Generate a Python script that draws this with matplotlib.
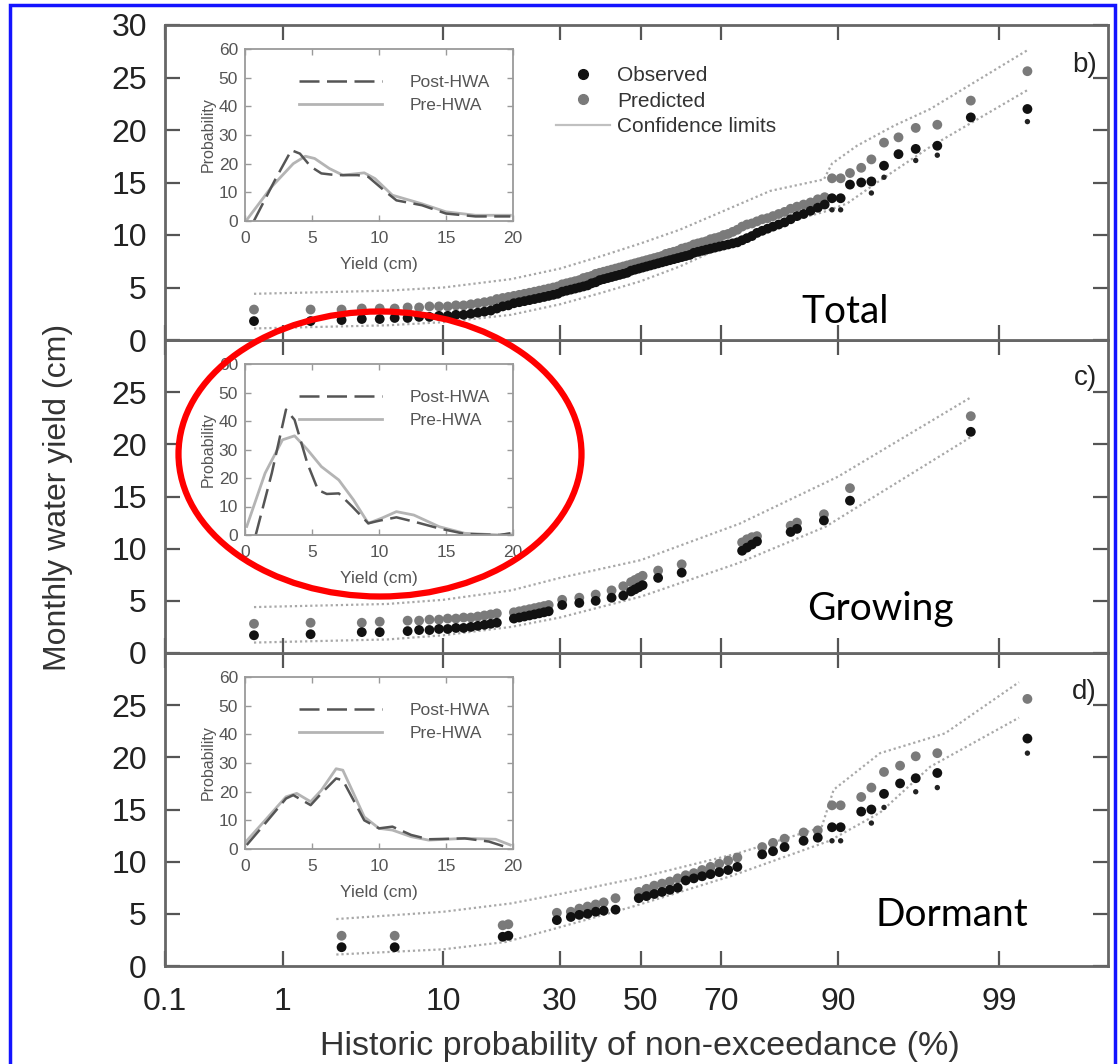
import numpy as np
import matplotlib
matplotlib.use("Agg")
import matplotlib.pyplot as plt
from matplotlib.patches import Ellipse, Rectangle
from matplotlib.lines import Line2D
from statistics import NormalDist

plt.rcParams['font.family'] = ['Liberation Sans', 'DejaVu Sans']

# ---- probability axis ticks
x_ticks = [0.1, 1, 10, 30, 50, 70, 90, 99]
x_tick_labels = ['0.1', '1', '10', '30', '50', '70', '90', '99']

# ---- b) Total
total_p = [0.6, 1.6, 2.6, 3.5, 4.5, 5.5, 6.5, 7.5, 8.5, 9.5,
           10.5, 11.5, 12.5, 13.5, 14.5, 15.5, 16.5, 17.5, 18.5, 19.5,
           20.5, 21.5, 22.5, 23.5, 24.5, 25.5, 26.5, 27.5, 28.5, 29.5,
           30.5, 31.5, 32.5, 33.5, 34.5, 35.5, 36.5, 37.5, 38.5, 39.5,
           40.5, 41.5, 42.5, 43.5, 44.5, 45.5, 46.5, 47.5, 48.5, 49.5,
           50.5, 51.5, 52.5, 53.5, 54.5, 55.5, 56.5, 57.5, 58.5, 59.5,
           60.5, 61.5, 62.5, 63.5, 64.5, 65.5, 66.5, 67.5, 68.5, 69.5,
           70.5, 71.5, 72.5, 73.5, 74.5, 75.5, 76.5, 77.5, 78.5, 79.5,
           80.5, 81.5, 82.5, 83.5, 84.5, 85.5, 86.5, 87.5, 88.4,
           89.3, 90.3, 91.3, 92.4, 93.3, 94.3, 95.3, 96.3, 97.3, 98.4, 99.4]
total_obs = [1.8, 1.8, 1.9, 2.0, 2.0, 2.1, 2.1, 2.2, 2.2, 2.3,
             2.3, 2.4, 2.4, 2.5, 2.6, 2.7, 2.8, 3.0, 3.2, 3.3,
             3.5, 3.6, 3.7, 3.8, 3.9, 4.0, 4.1, 4.2, 4.3, 4.4,
             4.6, 4.7, 4.8, 4.9, 5.0, 5.1, 5.2, 5.4, 5.5, 5.7,
             5.8, 5.9, 6.0, 6.1, 6.2, 6.3, 6.4, 6.6, 6.7, 6.8,
             6.9, 7.0, 7.1, 7.2, 7.3, 7.4, 7.5, 7.6, 7.7, 7.8,
             7.9, 8.0, 8.1, 8.3, 8.4, 8.5, 8.6, 8.7, 8.8, 8.9,
             9.0, 9.1, 9.2, 9.3, 9.5, 9.7, 9.9, 10.2, 10.4, 10.6,
             10.8, 11.0, 11.2, 11.5, 11.8, 12.0, 12.3, 12.6, 12.9,
             13.5, 13.5, 14.8, 15.0, 15.1, 16.6, 17.7, 18.2, 18.5, 21.2, 22.0]
total_pred = [2.9, 2.9, 2.9, 3.0, 3.0, 3.0, 3.1, 3.1, 3.2, 3.2,
              3.2, 3.3, 3.3, 3.4, 3.5, 3.6, 3.7, 3.9, 4.0, 4.1,
              4.2, 4.3, 4.4, 4.5, 4.6, 4.7, 4.8, 4.9, 5.0, 5.1,
              5.3, 5.4, 5.5, 5.6, 5.7, 5.9, 6.0, 6.1, 6.3, 6.4,
              6.5, 6.6, 6.7, 6.8, 6.9, 7.0, 7.1, 7.2, 7.3, 7.4,
              7.5, 7.6, 7.7, 7.8, 7.9, 8.0, 8.2, 8.3, 8.4, 8.5,
              8.7, 8.8, 8.9, 9.1, 9.2, 9.3, 9.4, 9.6, 9.7, 9.8,
              10.0, 10.1, 10.3, 10.5, 10.8, 11.0, 11.1, 11.3, 11.5, 11.6,
              11.8, 12.0, 12.2, 12.5, 12.7, 12.9, 13.1, 13.4, 13.6,
              15.4, 15.4, 15.9, 16.4, 17.2, 18.8, 19.3, 20.2, 20.5, 22.8, 25.6]
total_small_p = [89.3, 90.3, 93.3, 94.3, 96.3, 97.3, 99.4]
total_small = [12.4, 12.4, 14.0, 15.5, 17.1, 17.6, 20.8]
total_up_p = [0.6, 5, 10, 20, 30, 40, 50, 60, 70, 80, 88.3, 89.3, 92, 95, 97, 99.4]
total_up = [4.4, 4.7, 5.0, 5.8, 6.8, 8.0, 9.2, 10.5, 12.2, 14.2, 15.3, 16.8, 18.5, 20.4, 22.0, 27.6]
total_lo_p = [0.6, 5, 10, 20, 30, 40, 50, 60, 70, 80, 88.3, 91, 94, 97, 99.4]
total_lo = [1.1, 1.4, 1.7, 2.4, 3.4, 4.5, 5.6, 7.0, 8.8, 10.8, 12.2, 13.0, 15.2, 18.4, 23.8]

# ---- c) Growing
grow_p = [0.6, 1.6, 3.5, 4.5, 6.5, 7.5, 8.5, 9.5, 10.5, 11.5,
          12.5, 13.5, 14.5, 15.5, 16.5, 17.5, 20.5, 21.5, 22.5, 23.5,
          24.5, 25.5, 26.5, 27.5, 30.5, 34.5, 38.5, 42.5, 45.5, 47.5,
          48.5, 49.5, 50.5, 54.5, 60.5, 74.5, 75.5, 76.5, 77.5, 83.5,
          84.5, 88.3, 91.3, 98.4]
grow_obs = [1.7, 1.8, 2.0, 2.0, 2.1, 2.2, 2.2, 2.3, 2.3, 2.4,
            2.4, 2.5, 2.6, 2.7, 2.8, 2.9, 3.3, 3.4, 3.5, 3.6,
            3.7, 3.8, 3.9, 4.0, 4.6, 4.8, 5.0, 5.3, 5.5, 5.9,
            6.1, 6.3, 6.5, 7.2, 7.7, 9.8, 10.1, 10.4, 10.7, 11.6,
            11.9, 12.7, 14.6, 21.2]
grow_pred = [2.8, 2.9, 2.9, 3.0, 3.1, 3.1, 3.2, 3.2, 3.3, 3.3,
             3.4, 3.4, 3.5, 3.6, 3.7, 3.8, 3.9, 4.0, 4.1, 4.2,
             4.3, 4.4, 4.5, 4.6, 5.1, 5.3, 5.6, 6.0, 6.4, 6.8,
             7.0, 7.2, 7.4, 7.9, 8.5, 10.6, 10.9, 11.1, 11.2, 12.2,
             12.5, 13.3, 15.8, 22.7]
grow_up_p = [0.6, 5, 10, 20, 30, 50, 74, 90, 98.4]
grow_up = [4.4, 4.7, 5.1, 6.0, 7.2, 8.9, 12.4, 16.9, 24.5]
grow_lo_p = [0.6, 5, 10, 20, 30, 50, 73.6, 88.5, 98.4]
grow_lo = [1.0, 1.3, 1.7, 2.5, 3.4, 5.4, 8.6, 12.1, 20.7]

# ---- d) Dormant
dorm_p = [2.6, 5.5, 18.5, 19.5, 29.3, 32.5, 34.5, 36.5, 38.5, 40.5,
          43.5, 49.5, 51.5, 53.5, 55.5, 57.5, 59.5, 61.5, 63.5, 65.5,
          67.5, 69.5, 71.5, 73.5, 78.5, 80.5, 82.5, 85.5, 87.5, 89.3,
          90.3, 92.4, 93.3, 94.3, 95.4, 96.3, 97.3, 99.4]
dorm_obs = [1.8, 1.8, 2.8, 2.9, 4.4, 4.7, 4.9, 5.0, 5.2, 5.3,
            5.4, 6.5, 6.7, 6.9, 7.1, 7.3, 7.5, 8.2, 8.4, 8.6,
            8.8, 9.0, 9.2, 9.5, 10.7, 11.0, 11.4, 12.0, 12.3, 13.3,
            13.3, 14.8, 15.0, 16.5, 17.5, 18.0, 18.5, 21.8]
dorm_pred = [2.9, 2.9, 3.9, 4.0, 5.1, 5.2, 5.5, 5.7, 5.9, 6.1,
             6.5, 7.1, 7.4, 7.7, 7.9, 8.1, 8.4, 8.7, 8.9, 9.2,
             9.5, 9.8, 10.1, 10.4, 11.4, 11.8, 12.2, 12.8, 13.0, 15.4,
             15.4, 16.2, 17.1, 18.6, 19.2, 20.1, 20.4, 25.6]
dorm_small_p = [89.3, 90.3, 93.3, 94.3, 96.3, 97.3, 99.4]
dorm_small = [12.0, 12.0, 13.7, 15.2, 16.7, 17.1, 20.4]
dorm_up_p = [2.4, 10, 20, 30, 50, 73.6, 88, 89.5, 94, 97.6, 99.3]
dorm_up = [4.5, 5.2, 6.0, 6.9, 8.5, 10.8, 13.3, 16.9, 20.4, 22.3, 27.2]
dorm_lo_p = [2.4, 10, 19, 29, 48, 72, 89, 94, 97, 99.3]
dorm_lo = [1.1, 1.6, 2.3, 3.6, 5.7, 8.6, 12.0, 14.7, 19.1, 23.8]

# ---- insets: yield distributions (Post-HWA dashed, Pre-HWA solid)
b_post_x = [0.66, 2.26, 3.46, 4.1, 4.9, 5.7, 6.8, 8.4, 9.2, 10.5, 11.3, 13.2, 15.0, 17.2, 19.8]
b_post_y = [0, 14.5, 24.7, 23.5, 19.0, 16.6, 16.0, 16.0, 15.4, 10.2, 7.2, 5.5, 2.6, 1.6, 1.6]
b_pre_x = [0.1, 2.0, 3.6, 4.5, 5.2, 6.3, 7.3, 8.9, 9.7, 11.0, 13.2, 15.0, 17.2, 19.8]
b_pre_y = [0.2, 12.0, 20.0, 22.6, 21.8, 18.3, 16.0, 16.8, 14.8, 9.0, 6.0, 3.2, 2.0, 2.0]

c_post_x = [0.8, 2.0, 3.06, 3.7, 4.65, 5.45, 6.1, 7.0, 8.0, 9.2, 10.0, 11.3, 12.6, 14.5, 16.4, 19.0, 19.8]
c_post_y = [0, 21.7, 44.0, 40.4, 25.2, 15.8, 14.4, 14.6, 10.0, 4.1, 5.0, 6.2, 4.7, 2.3, 0.4, 0, 0.6]
c_pre_x = [0.13, 1.5, 2.8, 3.7, 4.65, 5.7, 7.0, 8.1, 9.2, 10.2, 11.3, 12.6, 14.5, 16.4, 19.0, 19.8]
c_pre_y = [3.0, 21.7, 33.4, 34.8, 30.0, 24.0, 19.3, 12.3, 4.1, 5.9, 8.2, 7.0, 2.9, 0.6, 0, 0.4]

d_post_x = [0.13, 1.5, 3.06, 3.6, 4.9, 5.7, 6.8, 7.3, 8.1, 8.9, 10.0, 11.0, 12.4, 13.7, 16.4, 18.2, 19.8]
d_post_y = [1.4, 8.9, 17.6, 18.8, 15.3, 19.4, 24.6, 24.0, 17.0, 10.0, 7.2, 7.8, 4.9, 3.4, 3.7, 2.6, 0.2]
d_pre_x = [0.0, 1.5, 3.06, 3.86, 4.9, 5.7, 6.8, 7.3, 8.1, 8.9, 10.0, 11.0, 12.4, 13.7, 16.4, 18.7, 19.8]
d_pre_y = [2.2, 10.0, 18.2, 19.4, 16.5, 20.5, 28.0, 27.5, 19.4, 11.2, 7.2, 6.6, 4.3, 3.1, 3.7, 3.4, 1.4]

ND = NormalDist()


def p_to_z(p):
    q = np.asarray(p, dtype=float) / 100.0
    q = np.where(np.isfinite(q), q, 0.5)
    q = np.clip(q, 1e-7, 1 - 1e-7)
    return np.vectorize(ND.inv_cdf, otypes=[float])(q)


def z_to_p(z):
    z = np.asarray(z, dtype=float)
    z = np.where(np.isfinite(z), z, 0.0)
    return np.vectorize(ND.cdf, otypes=[float])(z) * 100.0


AX_GREY = '#666666'
CL_GREY = '#a8a8a8'


def style_main(ax, yticks):
    for s in ax.spines.values():
        s.set_color(AX_GREY)
        s.set_linewidth(2)
    ax.set_ylim(0, 30)
    ax.set_yticks(yticks)
    ax.tick_params(direction='in', length=11, width=1.6, color='#555555',
                   top=True, right=True, labelsize=23, labelcolor='#222222')
    ax.tick_params(axis='y', pad=13)
    ax.tick_params(axis='x', pad=15)


def draw_panel(ax, p, obs, pred, up_p, up, lo_p, lo, small_p, small):
    ax.plot(up_p, up, color=CL_GREY, lw=1.6, ls=(0, (1, 1.3)), zorder=1)
    ax.plot(lo_p, lo, color=CL_GREY, lw=1.6, ls=(0, (1, 1.3)), zorder=1)
    ax.scatter(p, pred, s=50, color='#7a7a7a', edgecolors='none', zorder=2)
    ax.scatter(p, obs, s=50, color='#111111', edgecolors='none', zorder=3)
    if small_p:
        ax.scatter(small_p, small, s=15, color='#222222', edgecolors='none', zorder=3)


def draw_inset(fig, rect, post_x, post_y, pre_x, pre_y):
    ins = fig.add_axes(rect)
    ins.plot(pre_x, pre_y, color='#b4b4b4', lw=2.0, label='Pre-HWA')
    ins.plot(post_x, post_y, color='#555555', lw=1.8, ls=(0, (8, 3)), label='Post-HWA')
    ins.set_xlim(0, 20)
    ins.set_ylim(0, 60)
    ins.set_xticks([0, 5, 10, 15, 20])
    ins.set_yticks([0, 10, 20, 30, 40, 50, 60])
    for s in ins.spines.values():
        s.set_color('#9a9a9a')
        s.set_linewidth(1.3)
    ins.tick_params(direction='in', length=4, width=1, color='#9a9a9a',
                    top=True, right=True, labelsize=12.5, labelcolor='#555555')
    ins.tick_params(axis='y', pad=5)
    ins.tick_params(axis='x', pad=7)
    ins.set_xlabel('Yield (cm)', fontsize=12.5, color='#555555', labelpad=8)
    ins.set_ylabel('Probability', fontsize=11.5, color='#555555', labelpad=2)
    h, l = ins.get_legend_handles_labels()
    ins.legend(h[::-1], l[::-1], loc='upper left', bbox_to_anchor=(0.2, 0.85),
               frameon=False, fontsize=12.5, handlelength=4.8, handletextpad=1.6,
               borderpad=0, borderaxespad=0, labelspacing=0.45, labelcolor='#555555')
    return ins


W, H = 1120, 1064
fig = plt.figure(figsize=(W / 100, H / 100), dpi=100)
fig.patch.set_facecolor('white')

left, width = 165 / W, (1108 - 165) / W
ax_d = fig.add_axes([left, 1 - 966 / H, width, 313 / H])
ax_c = fig.add_axes([left, 1 - 653 / H, width, 313 / H], sharex=ax_d)
ax_b = fig.add_axes([left, 1 - 340 / H, width, 315 / H], sharex=ax_d)

ax_d.set_xscale('function', functions=(p_to_z, z_to_p))
ax_d.set_xlim(0.1, 99.88)

draw_panel(ax_b, total_p, total_obs, total_pred, total_up_p, total_up,
           total_lo_p, total_lo, total_small_p, total_small)
draw_panel(ax_c, grow_p, grow_obs, grow_pred, grow_up_p, grow_up,
           grow_lo_p, grow_lo, None, None)
draw_panel(ax_d, dorm_p, dorm_obs, dorm_pred, dorm_up_p, dorm_up,
           dorm_lo_p, dorm_lo, dorm_small_p, dorm_small)

style_main(ax_b, [0, 5, 10, 15, 20, 25, 30])
style_main(ax_c, [0, 5, 10, 15, 20, 25])
style_main(ax_d, [0, 5, 10, 15, 20, 25])
ax_d.set_xticks(x_ticks)
ax_d.set_xticklabels(x_tick_labels)
ax_d.xaxis.set_minor_locator(matplotlib.ticker.NullLocator())
ax_b.tick_params(labelbottom=False)
ax_c.tick_params(labelbottom=False)

# panel tags and season names
for ax, tag, ty in [(ax_b, 'b)', 0.873), (ax_c, 'c)', 0.879), (ax_d, 'd)', 0.875)]:
    ax.text(0.988, ty, tag, transform=ax.transAxes, ha='right', va='center',
            fontsize=20, color='#222222')
for ax, name, nx, ny in [(ax_b, 'Total', 0.721, 0.054),
                         (ax_c, 'Growing', 0.759, 0.105),
                         (ax_d, 'Dormant', 0.834, 0.128)]:
    ax.text(nx, ny, name, transform=ax.transAxes, ha='center', va='baseline',
            fontsize=28, color='black', family=['Lato', 'DejaVu Sans'])

# legend in top panel
handles = [Line2D([], [], ls='none', marker='o', ms=7, color='#111111'),
           Line2D([], [], ls='none', marker='o', ms=7, color='#7a7a7a'),
           Line2D([], [], color='#c0c0c0', lw=1.6)]
ax_b.legend(handles, ['Observed', 'Predicted', 'Confidence limits'],
            loc='upper left', bbox_to_anchor=(0.4146, 0.870), frameon=False,
            fontsize=15, handlelength=2.6, handletextpad=0.35, borderpad=0,
            borderaxespad=0, labelspacing=0.32, labelcolor='#333333')

# insets
draw_inset(fig, [245 / W, 1 - 221 / H, 268 / W, 172 / H], b_post_x, b_post_y, b_pre_x, b_pre_y)
draw_inset(fig, [245 / W, 1 - 535 / H, 268 / W, 171 / H], c_post_x, c_post_y, c_pre_x, c_pre_y)
draw_inset(fig, [245 / W, 1 - 849 / H, 268 / W, 172 / H], d_post_x, d_post_y, d_pre_x, d_pre_y)

# axis labels
fig.text(58 / W, 1 - 497 / H, 'Monthly water yield (cm)', rotation=90,
         ha='center', va='center', fontsize=23, color='#333333')
fig.text(640 / W, 1 - 1055 / H, 'Historic probability of non-exceedance (%)',
         ha='center', va='baseline', fontsize=24.5, color='#333333')

# red highlight ellipse and blue frame
fig.add_artist(Ellipse((380 / W, 1 - 454 / H), 403 / W, 285 / H, transform=fig.transFigure,
                       fill=False, ec='#ff0000', lw=4.5, zorder=30))
fig.add_artist(Rectangle((10 / W, -0.02), (1115 - 10) / W, 1 - 5 / H + 0.02,
                         transform=fig.transFigure, fill=False, ec='#1414ff',
                         lw=2.5, zorder=31))

fig.savefig('out.png', dpi=100)
